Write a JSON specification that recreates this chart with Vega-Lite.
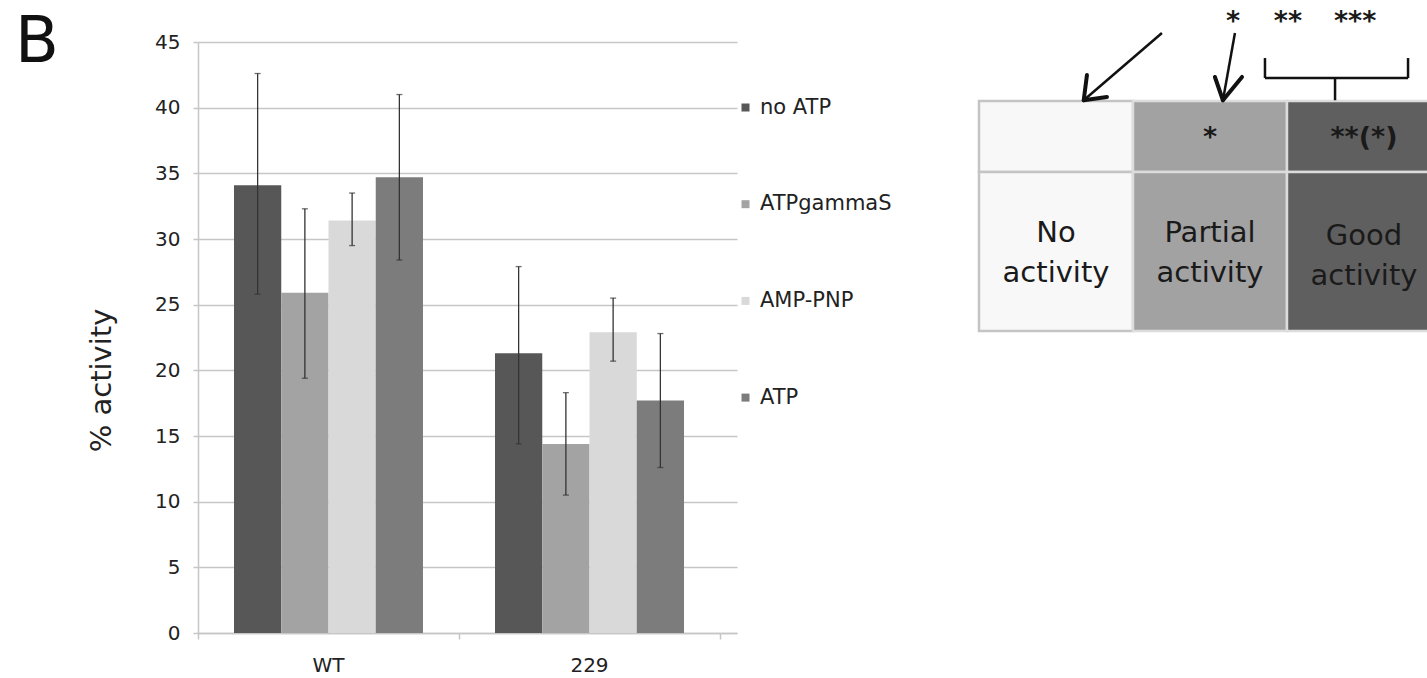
{
  "$schema": "https://vega.github.io/schema/vega-lite/v6.json",
  "width": 539,
  "height": 591,
  "autosize": {"type": "none"},
  "padding": {"left": 198, "top": 42, "right": 690, "bottom": 45},
  "background": "white",
  "config": {"view": {"stroke": null}, "font": "DejaVu Sans"},
  "datasets": {
    "bars": [
      {"sample": "WT", "condition": "no ATP", "activity": 34.1, "lo": 25.8, "hi": 42.6},
      {"sample": "WT", "condition": "ATPgammaS", "activity": 25.9, "lo": 19.4, "hi": 32.3},
      {"sample": "WT", "condition": "AMP-PNP", "activity": 31.4, "lo": 29.5, "hi": 33.5},
      {"sample": "WT", "condition": "ATP", "activity": 34.7, "lo": 28.4, "hi": 41.0},
      {"sample": "229", "condition": "no ATP", "activity": 21.3, "lo": 14.4, "hi": 27.9},
      {"sample": "229", "condition": "ATPgammaS", "activity": 14.4, "lo": 10.5, "hi": 18.3},
      {"sample": "229", "condition": "AMP-PNP", "activity": 22.9, "lo": 20.7, "hi": 25.5},
      {"sample": "229", "condition": "ATP", "activity": 17.7, "lo": 12.6, "hi": 22.8}
    ],
    "cells": [
      {"level": "No activity", "x0": 0, "x1": 1, "y0": 0, "y1": -0.461},
      {"level": "No activity", "x0": 0, "x1": 1, "y0": -0.461, "y1": -1.4935},
      {"level": "Partial activity", "x0": 1, "x1": 2, "y0": 0, "y1": -0.461},
      {"level": "Partial activity", "x0": 1, "x1": 2, "y0": -0.461, "y1": -1.4935},
      {"level": "Good activity", "x0": 2, "x1": 3, "y0": 0, "y1": -0.461},
      {"level": "Good activity", "x0": 2, "x1": 3, "y0": -0.461, "y1": -1.4935}
    ],
    "celltext": [
      {"text": "No\nactivity", "x": 0.5, "y": -0.857},
      {"text": "Partial\nactivity", "x": 1.5, "y": -0.857},
      {"text": "Good\nactivity", "x": 2.5, "y": -0.875}
    ],
    "scores": [
      {"text": "*", "x": 1.5, "y": -0.208},
      {"text": "**(*)", "x": 2.5, "y": -0.208}
    ],
    "stars": [
      {"text": "*", "x": 1.649, "y": 0.552},
      {"text": "**", "x": 2.006, "y": 0.552},
      {"text": "***", "x": 2.442, "y": 0.552}
    ],
    "panel": [
      {"text": "B", "x": -6.117, "y": 0.39}
    ],
    "segments": [
      {"part": "shaft", "x0": 1.188, "y0": 0.4416, "x1": 0.68, "y1": 0.005},
      {"part": "head", "x0": 0.68, "y0": 0.005, "x1": 0.831, "y1": 0.026},
      {"part": "head", "x0": 0.68, "y0": 0.005, "x1": 0.701, "y1": 0.169},
      {"part": "shaft", "x0": 1.662, "y0": 0.4416, "x1": 1.584, "y1": 0.005},
      {"part": "head", "x0": 1.584, "y0": 0.005, "x1": 1.532, "y1": 0.156},
      {"part": "head", "x0": 1.584, "y0": 0.005, "x1": 1.708, "y1": 0.156},
      {"part": "bracket", "x0": 1.857, "y0": 0.149, "x1": 2.786, "y1": 0.149},
      {"part": "bracket", "x0": 1.857, "y0": 0.149, "x1": 1.857, "y1": 0.279},
      {"part": "bracket", "x0": 2.786, "y0": 0.149, "x1": 2.786, "y1": 0.279},
      {"part": "bracket", "x0": 2.312, "y0": 0.149, "x1": 2.312, "y1": 0.005}
    ]
  },
  "layer": [
    {
      "data": {"name": "bars"},
      "encoding": {
        "x": {
          "field": "sample", "type": "nominal", "sort": ["WT", "229"],
          "scale": {"paddingInner": 0.2759, "paddingOuter": 0.1705, "align": 0.4045},
          "axis": {
            "title": null, "labelAngle": 0, "labelFontSize": 20, "labelColor": "#222222",
            "labelPadding": 22, "ticks": false,
            "domainColor": "#c6c6c6", "domainWidth": 1.5, "grid": false
          }
        },
        "xOffset": {
          "field": "condition", "type": "nominal",
          "sort": ["no ATP", "ATPgammaS", "AMP-PNP", "ATP"],
          "scale": {"paddingInner": 0, "paddingOuter": 0}
        }
      },
      "layer": [
        {
          "mark": {"type": "bar"},
          "encoding": {
            "y": {
              "field": "activity", "type": "quantitative", "title": "% activity",
              "scale": {"domain": [0, 45], "nice": false},
              "axis": {
                "values": [0, 5, 10, 15, 20, 25, 30, 35, 40, 45],
                "grid": true, "gridColor": "#c6c6c6", "gridWidth": 1.5,
                "domainColor": "#c6c6c6", "domainWidth": 1.5,
                "tickColor": "#c6c6c6", "tickWidth": 1.5, "tickSize": 5,
                "labelFontSize": 20, "labelColor": "#222222", "labelPadding": 13,
                "titleFontSize": 29, "titleFontWeight": "normal", "titleColor": "#222222",
                "titleX": -97, "titleY": 338, "titleBaseline": "middle", "titleAlign": "center", "titleAngle": -90
              }
            },
            "color": {
              "field": "condition", "type": "nominal",
              "scale": {
                "domain": ["no ATP", "ATPgammaS", "AMP-PNP", "ATP"],
                "range": ["#575757", "#a3a3a3", "#d9d9d9", "#7c7c7c"]
              },
              "legend": {
                "title": null, "orient": "none", "legendX": 537, "legendY": 55,
                "padding": 0, "rowPadding": 74.7, "symbolType": "square", "symbolSize": 64,
                "symbolStrokeWidth": 0, "symbolOpacity": 1, "labelFontSize": 21,
                "labelColor": "#222222", "labelOffset": 4
              }
            }
          }
        },
        {
          "mark": {"type": "rule", "color": "#333333", "strokeWidth": 1.3},
          "encoding": {
            "y": {"field": "lo", "type": "quantitative", "title": "% activity"},
            "y2": {"field": "hi"}
          }
        },
        {
          "mark": {"type": "tick", "color": "#333333", "size": 6, "thickness": 1.3},
          "encoding": {"y": {"field": "lo", "type": "quantitative", "title": "% activity"}}
        },
        {
          "mark": {"type": "tick", "color": "#333333", "size": 6, "thickness": 1.3},
          "encoding": {"y": {"field": "hi", "type": "quantitative", "title": "% activity"}}
        }
      ]
    },
    {
      "data": {"name": "bars"},
      "mark": {"type": "rule", "opacity": 0},
      "encoding": {
        "x": {
          "field": "sample", "type": "nominal", "sort": ["WT", "229"],
          "scale": {"paddingInner": 0, "paddingOuter": 0.0326, "align": 0},
          "axis": {
            "orient": "bottom", "title": null, "labels": false, "domain": false, "grid": false,
            "ticks": true, "tickBand": "extent", "tickSize": 6, "tickColor": "#c6c6c6", "tickWidth": 1.5
          }
        }
      }
    },
    {
      "layer": [
        {
          "data": {"name": "cells"},
          "mark": {"type": "rect", "strokeWidth": 2.5},
          "encoding": {
            "x": {"field": "x0", "type": "quantitative", "scale": {"domain": [-5.0714, -1.5714], "nice": false, "zero": false}, "axis": null},
            "x2": {"field": "x1"},
            "y": {"field": "y0", "type": "quantitative", "scale": {"domain": [-3.4545, 0.3831], "nice": false, "zero": false}, "axis": null},
            "y2": {"field": "y1"},
            "fill": {
              "field": "level", "type": "nominal", "legend": null,
              "scale": {"domain": ["No activity", "Partial activity", "Good activity"], "range": ["#f8f8f8", "#a2a2a2", "#5f5f5f"]}
            },
            "stroke": {
              "field": "level", "type": "nominal", "legend": null,
              "scale": {"domain": ["No activity", "Partial activity", "Good activity"], "range": ["#c4c4c4", "#dcdcdc", "#dcdcdc"]}
            }
          }
        },
        {
          "data": {"name": "celltext"},
          "mark": {"type": "text", "fontSize": 29, "lineBreak": "\n", "lineHeight": 40, "baseline": "middle", "align": "center", "color": "#1a1a1a"},
          "encoding": {
            "x": {"field": "x", "type": "quantitative", "axis": null},
            "y": {"field": "y", "type": "quantitative", "axis": null},
            "text": {"field": "text"}
          }
        },
        {
          "data": {"name": "scores"},
          "mark": {"type": "text", "fontSize": 27, "fontWeight": "bold", "baseline": "middle", "align": "center", "color": "#1a1a1a", "dy": 5},
          "encoding": {
            "x": {"field": "x", "type": "quantitative", "axis": null},
            "y": {"field": "y", "type": "quantitative", "axis": null},
            "text": {"field": "text"}
          }
        },
        {
          "data": {"name": "stars"},
          "mark": {"type": "text", "fontSize": 27, "fontWeight": "bold", "baseline": "middle", "align": "center", "color": "#1a1a1a", "dy": 6},
          "encoding": {
            "x": {"field": "x", "type": "quantitative", "axis": null},
            "y": {"field": "y", "type": "quantitative", "axis": null},
            "text": {"field": "text"}
          }
        },
        {
          "data": {"name": "panel"},
          "mark": {"type": "text", "fontSize": 64, "baseline": "middle", "align": "center", "color": "#111111", "dy": 2},
          "encoding": {
            "x": {"field": "x", "type": "quantitative", "axis": null},
            "y": {"field": "y", "type": "quantitative", "axis": null},
            "text": {"field": "text"}
          }
        },
        {
          "data": {"name": "segments"},
          "transform": [{"filter": "datum.part !== 'head'"}],
          "mark": {"type": "rule", "color": "#111111", "strokeWidth": 2.5},
          "encoding": {
            "x": {"field": "x0", "type": "quantitative", "axis": null},
            "y": {"field": "y0", "type": "quantitative", "axis": null},
            "x2": {"field": "x1"},
            "y2": {"field": "y1"}
          }
        },
        {
          "data": {"name": "segments"},
          "transform": [{"filter": "datum.part === 'head'"}],
          "mark": {"type": "rule", "color": "#111111", "strokeWidth": 4, "strokeCap": "round"},
          "encoding": {
            "x": {"field": "x0", "type": "quantitative", "axis": null},
            "y": {"field": "y0", "type": "quantitative", "axis": null},
            "x2": {"field": "x1"},
            "y2": {"field": "y1"}
          }
        }
      ]
    }
  ],
  "resolve": {"scale": {"x": "independent", "y": "independent"}}
}
